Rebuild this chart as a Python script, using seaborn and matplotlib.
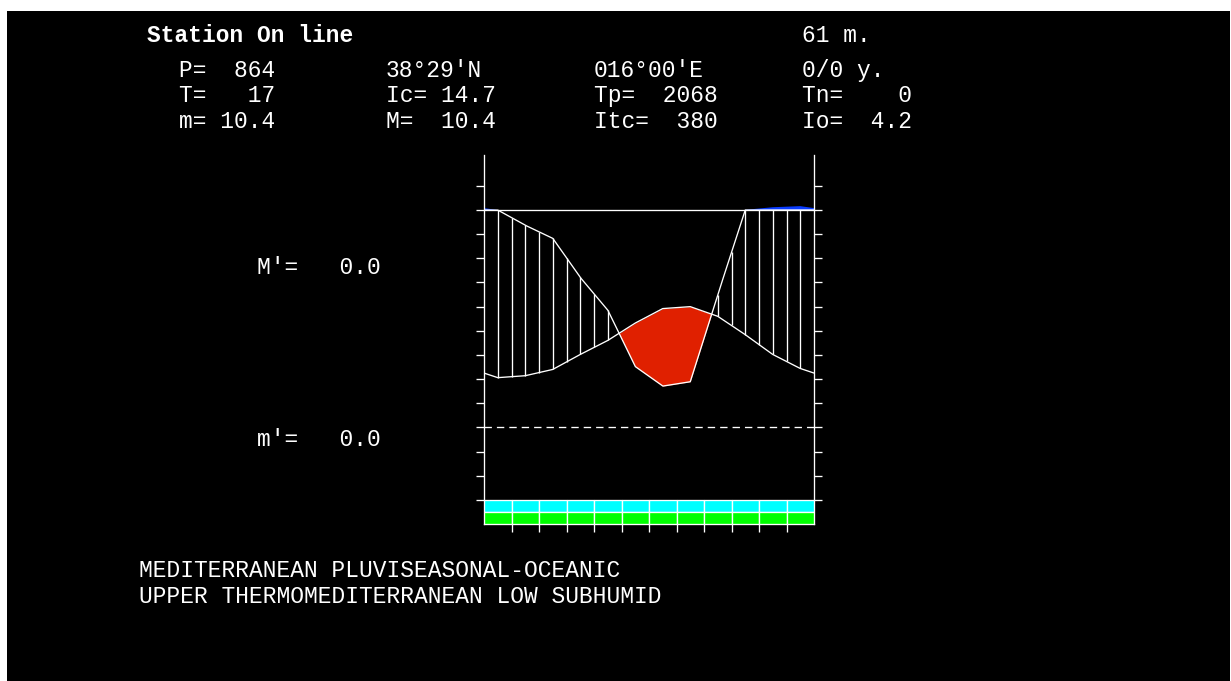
import numpy as np
import pandas as pd
import matplotlib
matplotlib.use("Agg")
import matplotlib.pyplot as plt
from matplotlib.patches import Rectangle
import seaborn as sns

# ---- station data -------------------------------------------------------
months = ["Jan", "Feb", "Mar", "Apr", "May", "Jun",
          "Jul", "Aug", "Sep", "Oct", "Nov", "Dec"]
temp_c = [10.3, 10.7, 12.0, 15.1, 18.0, 21.6, 24.6, 25.0, 23.0, 19.2, 15.1, 12.2]
precip_mm = [100, 93, 87, 69, 54, 28, 19, 21, 61, 101, 113, 118]

header = "Station On line"
altitude = "61 m."
info_rows = [
    ["P=  864", "38°29'N", "016°00'E", "0/0 y."],
    ["T=   17", "Ic= 14.7", "Tp=  2068", "Tn=    0"],
    ["m= 10.4", "M=  10.4", "Itc=  380", "Io=  4.2"],
]
upper_label = "M'=   0.0"
lower_label = "m'=   0.0"
classification = ["MEDITERRANEAN PLUVISEASONAL-OCEANIC",
                  "UPPER THERMOMEDITERRANEAN LOW SUBHUMID"]

# ---- diagram scales -----------------------------------------------------
P_LIMIT = 100.0            # mm drawn at full scale
C_PER_MM = 45.0 / P_LIMIT  # 100 mm sits on the 45 degree line
EXCESS_SCALE = 0.1         # precipitation above the limit drawn at 1/10


def precip_axis(p):
    p = np.asarray(p, float)
    return np.where(p <= P_LIMIT, p * C_PER_MM,
                    P_LIMIT * C_PER_MM + (p - P_LIMIT) * EXCESS_SCALE * C_PER_MM)


LIMIT_Y = P_LIMIT * C_PER_MM

# monthly points at month centres, closed cyclically at the frame edges
t = np.array(temp_c, float)
p = precip_axis(precip_mm)
xc = np.arange(12) + 0.5
x_ext = np.concatenate([[0.0], xc, [12.0]])
t_ext = np.concatenate([[(t[-1] + t[0]) / 2], t, [(t[-1] + t[0]) / 2]])
p_ext = np.concatenate([[(p[-1] + p[0]) / 2], p, [(p[-1] + p[0]) / 2]])

xf = np.linspace(0, 12, 4801)
tf = np.interp(xf, x_ext, t_ext)
pf = np.interp(xf, x_ext, p_ext)

# ---- styling ------------------------------------------------------------
sns.set_theme(style="ticks")
plt.rcParams["font.family"] = ["Liberation Mono", "DejaVu Sans Mono"]
W, H = 1231, 681
LW = 0.95
WHITE = "white"

fig = plt.figure(figsize=(W / 100, H / 100), dpi=100, facecolor="white")
fig.add_artist(Rectangle((7 / W, 0), (1230 - 7) / W, (H - 11) / H,
                         transform=fig.transFigure, facecolor="black",
                         edgecolor="none", zorder=-10))

ax = fig.add_axes([484 / W, 157 / H, 330 / W, 369.5 / H])
ax.set_facecolor("black")
ax.set_xlim(0, 12)
ax.set_ylim(-20, 56.5)

# dry season (temperature above precipitation)
ax.fill_between(xf, pf, tf, where=tf > pf, interpolate=True,
                color="#e02000", linewidth=0, zorder=2)
# precipitation excess above the limit
ax.fill_between(xf, LIMIT_Y, pf, where=pf > LIMIT_Y, interpolate=True,
                color="#0a3cff", linewidth=0, zorder=2)

# humid season hatching every half month
xh = np.arange(0.5, 12.0, 0.5)
th = np.interp(xh, x_ext, t_ext)
ph = np.minimum(np.interp(xh, x_ext, p_ext), LIMIT_Y)
wet = ph > th
ax.vlines(xh[wet], th[wet], ph[wet], color=WHITE, linewidth=LW, zorder=3)

# curves
curves = pd.DataFrame({"x": x_ext, "temp": t_ext})
sns.lineplot(data=curves, x="x", y="temp", ax=ax, color=WHITE,
             linewidth=LW, sort=False, estimator=None, zorder=4)
prec_line = pd.DataFrame({"x": xf, "prec": np.minimum(pf, LIMIT_Y)})
sns.lineplot(data=prec_line, x="x", y="prec", ax=ax, color=WHITE,
             linewidth=LW, sort=False, estimator=None, zorder=4)

# reference lines
ax.hlines(LIMIT_Y, 0, 12, color=WHITE, linewidth=LW, zorder=4)
ax.hlines(0, 0, 12, color=WHITE, linewidth=LW, linestyles=(0, (5.6, 3.8)), zorder=4)

# monthly bands under the diagram
for i in range(12):
    ax.add_patch(Rectangle((i, -17.5), 1, 2.5, facecolor="#00ffff",
                           edgecolor=WHITE, linewidth=LW, zorder=3))
    ax.add_patch(Rectangle((i, -20), 1, 2.5, facecolor="#00ff00",
                           edgecolor=WHITE, linewidth=LW, zorder=3))

# frame and ticks
for side in ("left", "right", "bottom"):
    ax.spines[side].set_color(WHITE)
    ax.spines[side].set_linewidth(LW)
ax.spines["top"].set_visible(False)
ax.set_yticks(np.arange(-15, 51, 5))
ax.set_xticks(np.arange(1, 12))
ax.tick_params(axis="y", which="both", left=True, right=True, direction="out",
               length=5.8, width=LW, color=WHITE, labelleft=False, labelright=False)
ax.tick_params(axis="x", which="both", bottom=True, top=False, direction="out",
               length=5.6, width=LW, color=WHITE, labelbottom=False)
ax.set_xlabel("")
ax.set_ylabel("")
ax.grid(False)

# ---- text ---------------------------------------------------------------
FS = 16.5


def put(x, y, s, bold=False):
    fig.text(x / W, 1 - y / H, s, color=WHITE, fontsize=FS, ha="left",
             va="baseline", fontweight="bold" if bold else "normal")


put(147, 41.7, header, bold=True)
put(802, 41.7, altitude)
cols = [179, 386, 594, 802]
for row, base in zip(info_rows, [76.7, 102.3, 128.3]):
    for x0, s in zip(cols, row):
        put(x0, base, s)
put(257, 274, upper_label)
put(257, 446, lower_label)
put(139, 577, classification[0])
put(139, 603, classification[1])

fig.savefig("out.png", dpi=100, facecolor=fig.get_facecolor())
